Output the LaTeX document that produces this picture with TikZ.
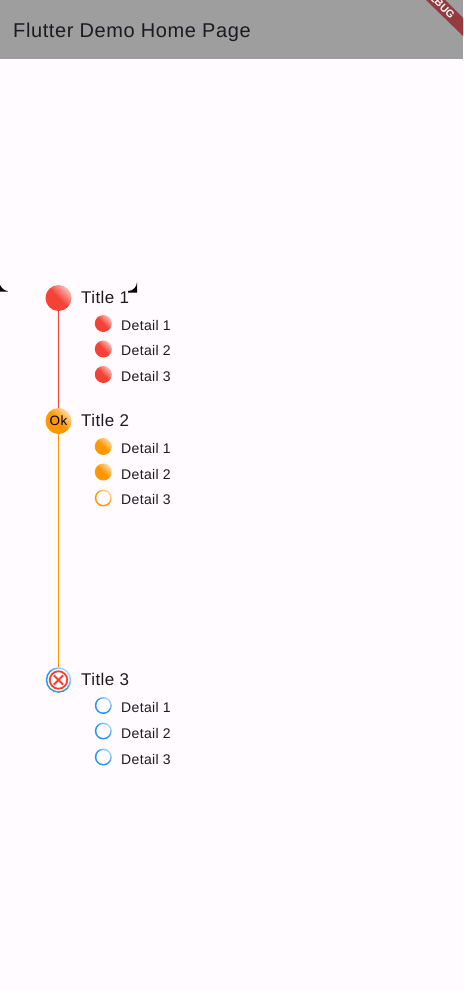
\documentclass[tikz,border=0pt]{standalone}
\usepackage{fontspec}
\setmainfont{Liberation Sans}
\newfontfamily\roomyfont[LetterSpace=2.5]{Liberation Sans}
\newfontfamily\barfont[LetterSpace=3]{Liberation Sans}
\usetikzlibrary{positioning}
\definecolor{pagebg}{HTML}{FFFBFF}
\definecolor{barbg}{HTML}{9E9E9E}
\definecolor{bannerbg}{HTML}{933B40}
\definecolor{inktext}{HTML}{1C1B1F}
\definecolor{dotred}{HTML}{F44336}
\definecolor{dotorange}{HTML}{FF9800}
\definecolor{dotblue}{HTML}{2196F3}

\begin{document}
\begin{tikzpicture}[x=1pt,y=-1pt,
                    ballnode/.style 2 args={circle, minimum size=#2, inner sep=0pt, top color=#1!35!white, bottom color=#1, middle color=#1, shading angle=-45},
                    ringnode/.style n args={3}{ballnode={#1}{#2}, path picture={\fill[pagebg] (path picture bounding box.center) circle[radius=#3];}},
                    titlenode/.style={text=inktext, font=\roomyfont\fontsize{17}{19}\selectfont, inner sep=0pt, anchor=west},
                    detailnode/.style={text=inktext, font=\roomyfont\fontsize{14}{16}\selectfont, inner sep=0pt, anchor=west},
                ]
                    \useasboundingbox (0,0) rectangle (463,990);
                    \fill[pagebg] (0,0) rectangle (463,990);

                    %App bar
                    \fill[barbg] (0,0) rectangle (463,59);
                    \node[text=inktext, font=\barfont\fontsize{20}{24}\selectfont, inner sep=0pt, anchor=west](bartitle) at (13,32.8) {Flutter Demo Home Page};
                    \begin{scope}
                        \clip (0,0) rectangle (463,59);
                        \fill[bannerbg] (426,0) -- (445,0) -- (463,18) -- (463,36) -- cycle;
                        \node[text=white, font=\bfseries\fontsize{10.5}{12}\selectfont, inner sep=0pt, rotate=-45](banner) at (439.5,3.5) {DEBUG};
                    \end{scope}

                    %Corners
                    \fill[black] (137,282) arc[start angle=0, end angle=90, radius=9] -- (128,292.5) -- (137,292.5) -- cycle;
                    \fill[black] (0,285) .. controls (2,289) and (5,291) .. (8,291.5) -- (0,291.5) -- cycle;

                    %Nodes
                    \node[ballnode={dotred}{26pt}](dot1) at (58.5,298) {};
                    \node[ballnode={dotorange}{26pt}, text=black, font=\roomyfont\fontsize{13.5}{16}\selectfont](dot2) at (58.5,421) {Ok};
                    \node[ringnode={dotblue}{25.5pt}{11.2pt}](dot3) at (58.5,680) {};
                    \node[circle, minimum size=17.5pt, inner sep=0pt, draw=dotred, line width=1.8pt](cross) at (dot3) {};
                    \node[circle, minimum size=13pt, inner sep=0pt](crosstip) at (dot3) {};

                    \node[titlenode](title1) at (81,297) {Title 1};
                    \node[titlenode](title2) at (81,420) {Title 2};
                    \node[titlenode](title3) at (81,679.5) {Title 3};

                    \node[detailnode](d11) at (121,325.5) {Detail 1};
                    \node[detailnode, below=25.4pt of d11.west, anchor=west](d12) {Detail 2};
                    \node[detailnode, below=25.4pt of d12.west, anchor=west](d13) {Detail 3};
                    \node[detailnode](d21) at (121,448.5) {Detail 1};
                    \node[detailnode, below=25.5pt of d21.west, anchor=west](d22) {Detail 2};
                    \node[detailnode, below=25.5pt of d22.west, anchor=west](d23) {Detail 3};
                    \node[detailnode](d31) at (121,707.5) {Detail 1};
                    \node[detailnode, below=25.8pt of d31.west, anchor=west](d32) {Detail 2};
                    \node[detailnode, below=25.8pt of d32.west, anchor=west](d33) {Detail 3};

                    \node[ballnode={dotred}{17pt}](m11) at (103.3,323.5) {};
                    \node[ballnode={dotred}{17pt}](m12) at (103.3,349) {};
                    \node[ballnode={dotred}{17pt}](m13) at (103.3,374.5) {};
                    \node[ballnode={dotorange}{17pt}](m21) at (103.3,446.5) {};
                    \node[ballnode={dotorange}{17pt}](m22) at (103.3,472) {};
                    \node[ringnode={dotorange}{17pt}{6.9pt}](m23) at (103.3,498) {};
                    \node[ringnode={dotblue}{17pt}{6.9pt}](m31) at (103.3,705.5) {};
                    \node[ringnode={dotblue}{17pt}{6.9pt}](m32) at (103.3,731) {};
                    \node[ringnode={dotblue}{17pt}{6.9pt}](m33) at (103.3,757) {};

                    %Lines
                    \draw[line width=1.4pt, dotred](dot1.south) -- (dot2.north);
                    \draw[line width=1.4pt, dotorange](dot2.south) -- (dot3.north);
                    \draw[line width=1.8pt, dotred](crosstip.45) -- (crosstip.225);
                    \draw[line width=1.8pt, dotred](crosstip.135) -- (crosstip.315);
                \end{tikzpicture}
\end{document}
